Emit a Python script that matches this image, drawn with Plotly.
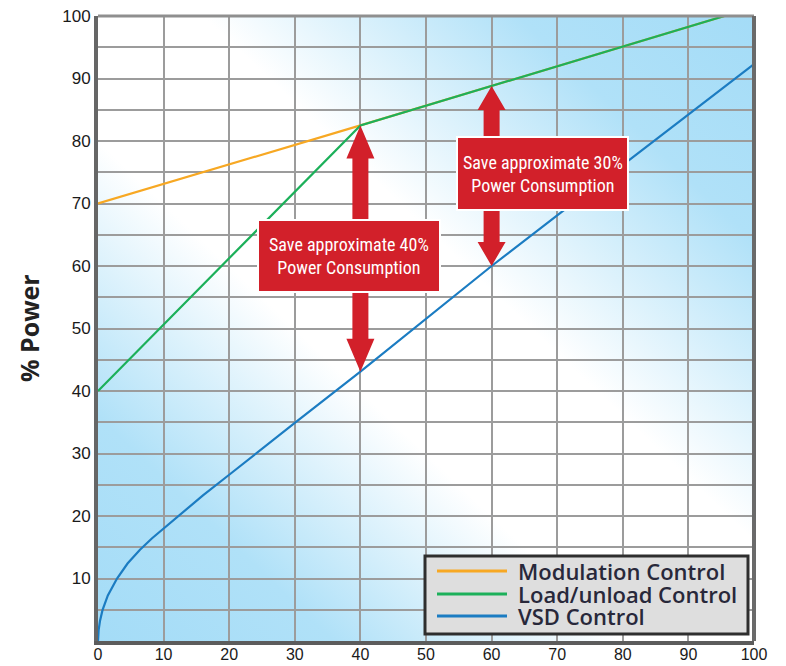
import base64
import numpy as np
import plotly.graph_objects as go

# ---- data -------------------------------------------------------------
series_names = ["Modulation Control", "Load/unload Control", "VSD Control"]
series_colors = ["#f7a823", "#1cb05a", "#1b7cc2"]

modulation_x = [0, 40, 95.5]
modulation_y = [70, 82.5, 100]

loadunload_x = [0, 40, 95.5]
loadunload_y = [40, 82.5, 100]

vsd_x = [0, 0.1, 0.3, 0.7, 1.5, 2.9, 4.5, 6.4, 8.2, 10, 13, 16, 20, 25, 30,
         40, 50, 60, 70, 80, 90, 100]
vsd_y = [0, 1.8, 3.2, 5, 7.3, 10, 12.4, 14.6, 16.4, 18, 20.7, 23.3, 26.6, 30.8, 34.9,
         43.1, 51.6, 60, 68.1, 76.2, 84.3, 92.3]

x_tick_vals = [0, 10, 20, 30, 40, 50, 60, 70, 80, 90, 100]
x_tick_labels = ["0", "10", "20", "30", "40", "50", "60", "70", "80", "90", "100"]
y_tick_vals = [5, 10, 15, 20, 25, 30, 35, 40, 45, 50, 55, 60, 65, 70, 75, 80, 85, 90, 95, 100]
y_tick_labels = ["", "10", "", "20", "", "30", "", "40", "", "50", "",
                 "60", "", "70", "", "80", "", "90", "", "100"]

saving_points = [40, 60]
saving_texts = ["Save approximate 40%<br>Power Consumption",
                "Save approximate 30%<br>Power Consumption"]

# ---- layout constants --------------------------------------------------
W, H = 786, 666
L, R, T, B = 98, 32, 16, 25
PX_X = 100 / (W - L - R)   # data units per pixel (x)
PX_Y = 100 / (H - T - B)   # data units per pixel (y)
RED = "#d2202a"

fig = go.Figure()

xs = [modulation_x, loadunload_x, vsd_x]
ys = [modulation_y, loadunload_y, vsd_y]
for name, color, x, y in zip(series_names, series_colors, xs, ys):
    fig.add_trace(go.Scatter(x=x, y=y, mode="lines", name=name,
                             line=dict(color=color, width=2.2),
                             showlegend=False, hoverinfo="skip"))

# ---- diagonal blue/white background ------------------------------------
svg = (
    '<svg xmlns="http://www.w3.org/2000/svg" width="400" height="400" '
    'viewBox="0 0 400 400" preserveAspectRatio="none">'
    '<defs><linearGradient id="g" x1="0" y1="1" x2="1" y2="0">'
    '<stop offset="0" stop-color="#a4dcf7"/>'
    '<stop offset="0.18" stop-color="#b0e1f8"/>'
    '<stop offset="0.40" stop-color="#ffffff"/>'
    '<stop offset="0.58" stop-color="#ffffff"/>'
    '<stop offset="0.82" stop-color="#b0e1f8"/>'
    '<stop offset="1" stop-color="#a4dcf7"/>'
    '</linearGradient></defs>'
    '<rect width="400" height="400" fill="url(#g)"/></svg>'
)
src = "data:image/svg+xml;base64," + base64.b64encode(svg.encode()).decode()
fig.add_layout_image(dict(source=src, xref="x", yref="y", x=0, y=100,
                          sizex=100, sizey=100, sizing="stretch", layer="below"))

# ---- saving callouts: red boxes with block arrows ----------------------
boxes = [  # (x0, x1, y0, y1) in data units
    ((258 - L) * PX_X, (440 - L) * PX_X, (H - B - 292) * PX_Y, (H - B - 220) * PX_Y),
    ((457 - L) * PX_X, (628 - L) * PX_X, (H - B - 210) * PX_Y, (H - B - 137) * PX_Y),
]
head_px = [33, 24]


def block_arrow(x, y_tail, y_tip, head_h, shaft_hw, head_hw):
    d = 1 if y_tip > y_tail else -1
    y_base = y_tip - d * head_h
    pts = [(x - shaft_hw, y_tail), (x - shaft_hw, y_base), (x - head_hw, y_base),
           (x, y_tip), (x + head_hw, y_base), (x + shaft_hw, y_base),
           (x + shaft_hw, y_tail)]
    return "M " + " L ".join(f"{px:.3f},{py:.3f}" for px, py in pts) + " Z"


shapes = []
for xp, (bx0, bx1, by0, by1), hp, txt in zip(saving_points, boxes, head_px, saving_texts):
    top = float(np.interp(xp, loadunload_x, loadunload_y))
    bottom = float(np.interp(xp, vsd_x, vsd_y))
    for tail, tip in ((by1, top), (by0, bottom)):
        shapes.append(dict(type="path", xref="x", yref="y",
                           path=block_arrow(xp, tail, tip, hp * PX_Y, 8 * PX_X, 14 * PX_X),
                           fillcolor=RED, line=dict(width=0)))
    shapes.append(dict(type="rect", xref="x", yref="y", x0=bx0, x1=bx1, y0=by0, y1=by1,
                       fillcolor=RED, line=dict(color="#ffffff", width=2)))
    fig.add_annotation(x=(bx0 + bx1) / 2, y=(by0 + by1) / 2, xref="x", yref="y",
                       text=txt, showarrow=False, align="center",
                       xanchor="center", yanchor="middle",
                       font=dict(family="Liberation Sans Narrow, Arial Narrow, Roboto Condensed, Liberation Sans, sans-serif",
                                 size=18, color="#ffffff"))

# top and right frame edges
shapes.append(dict(type="line", xref="x domain", yref="y domain", x0=0, x1=1, y0=1, y1=1,
                   line=dict(color="#8f8f8f", width=3)))
shapes.append(dict(type="line", xref="x domain", yref="y domain", x0=1, x1=1, y0=0, y1=1,
                   line=dict(color="#6a6a6a", width=4)))


# ---- legend box ---------------------------------------------------------
def dx(px):
    return (px - L) / (W - L - R)


def dy(py):
    return (H - B - py) / (H - T - B)


shapes.append(dict(type="rect", xref="x domain", yref="y domain",
                   x0=dx(425), x1=dx(748), y0=dy(634), y1=dy(556),
                   fillcolor="#dedede", line=dict(color="#2e2e2e", width=3)))
row_py = [571, 594, 616]
for name, color, py in zip(series_names, series_colors, row_py):
    shapes.append(dict(type="line", xref="x domain", yref="y domain",
                       x0=dx(437), x1=dx(507), y0=dy(py), y1=dy(py),
                       line=dict(color=color, width=3)))
    fig.add_annotation(x=dx(516), y=dy(py), xref="x domain", yref="y domain",
                       text=name, showarrow=False, xanchor="left", yanchor="middle",
                       font=dict(family="Open Sans, Lato, sans-serif", size=22,
                                 color="#28283a", weight=600))

# y-axis title
fig.add_annotation(x=dx(29), y=dy(328), xref="x domain", yref="y domain",
                   text="% Power", showarrow=False, textangle=-90,
                   xanchor="center", yanchor="middle",
                   font=dict(family="Open Sans, Liberation Sans, sans-serif", size=25,
                             color="#222222", weight="bold"))

fig.update_layout(
    width=W, height=H,
    margin=dict(l=L, r=R, t=T, b=B, autoexpand=False),
    paper_bgcolor="#ffffff", plot_bgcolor="rgba(0,0,0,0)",
    shapes=shapes, showlegend=False,
    font=dict(family="Liberation Sans, Arial, sans-serif", size=17, color="#1a1a1a"),
)
fig.update_xaxes(range=[0, 100], tickvals=x_tick_vals, ticktext=x_tick_labels,
                 tickfont=dict(size=16), ticklabelstandoff=-4,
                 showgrid=True, gridcolor="#9c9c9c", gridwidth=1.5, zeroline=False,
                 showline=True, linecolor="#5c5c5c", linewidth=4, ticks="",
                 automargin=False, fixedrange=True)
fig.update_yaxes(range=[0, 100], tickvals=y_tick_vals, ticktext=y_tick_labels,
                 showgrid=True, gridcolor="#9c9c9c", gridwidth=1.5, zeroline=False,
                 showline=True, linecolor="#666666", linewidth=4, ticks="",
                 automargin=False, fixedrange=True)

fig.write_html("out.html")
